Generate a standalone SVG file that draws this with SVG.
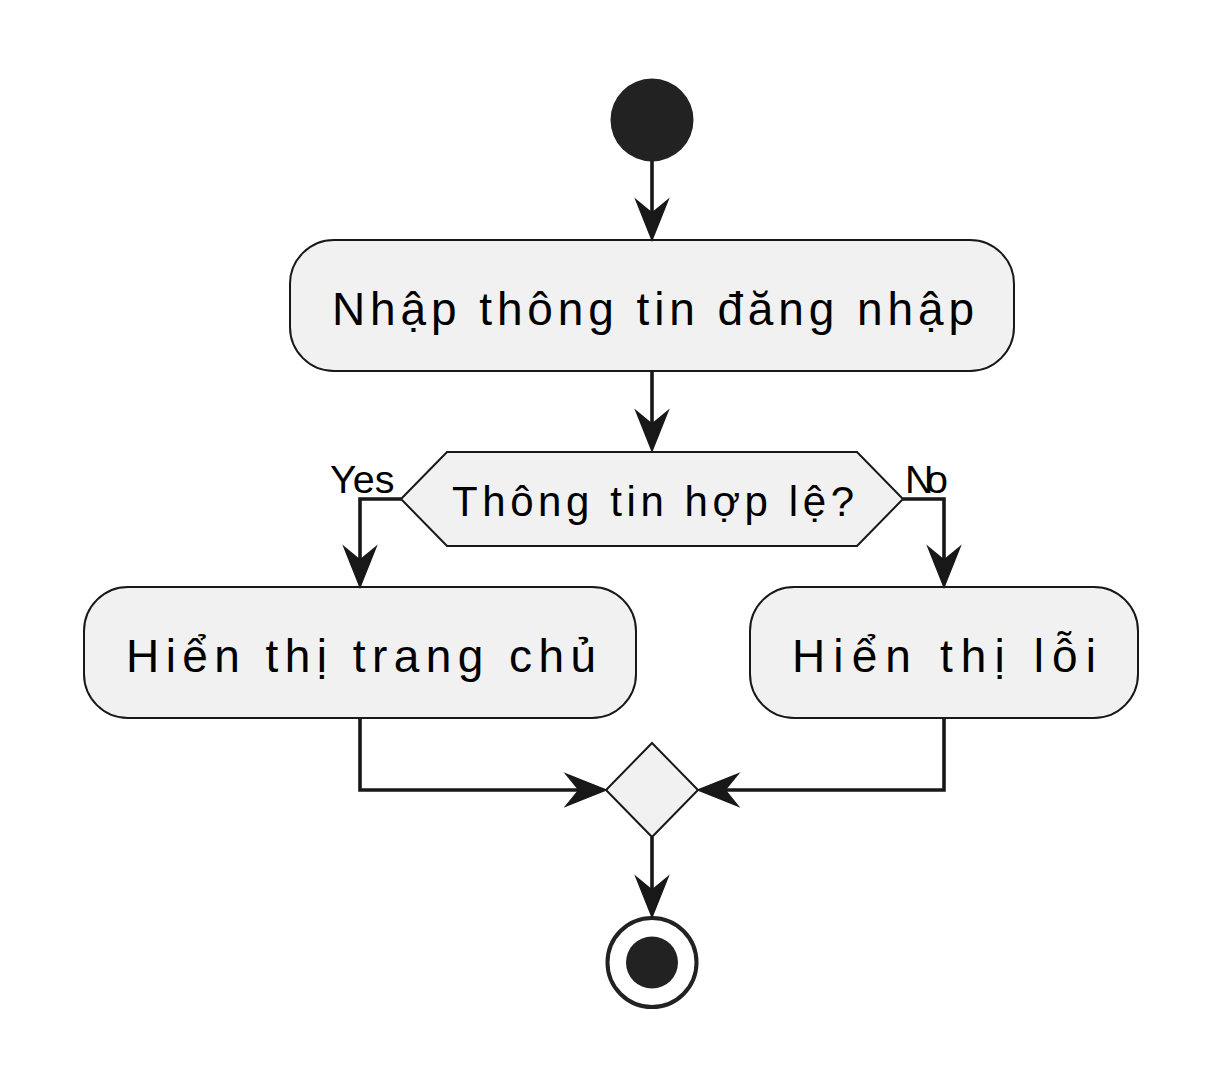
<svg xmlns="http://www.w3.org/2000/svg" width="1220" height="1088" viewBox="0 0 1220 1088">
<style>
.node{fill:#F1F1F1;stroke:#181818;stroke-width:2}
.lbl{font-family:"Liberation Sans",Arial,sans-serif;fill:#000}
.big{font-size:46px}
.mid{font-size:42px}
.sm{font-size:39.5px}
.edge{fill:none;stroke:#181818;stroke-width:3.6}
.head{fill:#181818;stroke:#181818;stroke-width:1.5;stroke-linejoin:miter}
</style>
<rect width="1220" height="1088" fill="#FFFFFF"/>
<g id="start">
<circle cx="652" cy="120" r="41.5" fill="#222222"/>
</g>
<g id="input">
<rect class="node" x="290" y="240" width="724" height="131" rx="44" ry="44"/>
<text class="lbl big" x="332" y="325" textLength="642" lengthAdjust="spacing">Nhập thông tin đăng nhập</text>
</g>
<g id="check">
<polygon class="node" points="401,499 447,452 857,452 903,499 857,546 447,546"/>
<text class="lbl mid" x="452" y="516" textLength="402" lengthAdjust="spacing">Thông tin hợp lệ?</text>
</g>
<g id="home">
<rect class="node" x="84" y="587" width="552" height="131" rx="44" ry="44"/>
<text class="lbl big" x="126" y="672" textLength="470" lengthAdjust="spacing">Hiển thị trang chủ</text>
</g>
<g id="error">
<rect class="node" x="750" y="587" width="388" height="131" rx="44" ry="44"/>
<text class="lbl big" x="792" y="672" textLength="304" lengthAdjust="spacing">Hiển thị lỗi</text>
</g>
<g id="merge">
<polygon class="node" points="652,743 698,790 652,837 606,790"/>
</g>
<g id="end">
<circle cx="652" cy="962.5" r="44.5" fill="#FFFFFF" stroke="#222222" stroke-width="4"/>
<circle cx="652" cy="962.5" r="26" fill="#222222"/>
</g>
<g id="connectors">
<line class="edge" x1="652" y1="161" x2="652" y2="225"/>
<polygon class="head" points="652,240 636,200 652,213 668,200"/>
<line class="edge" x1="652" y1="371" x2="652" y2="436"/>
<polygon class="head" points="652,451 636,411 652,424 668,411"/>
<polyline class="edge" points="401,499 360,499 360,572"/>
<polygon class="head" points="360,587 344,547 360,560 376,547"/>
<polyline class="edge" points="903,499 944,499 944,572"/>
<polygon class="head" points="944,587 928,547 944,560 960,547"/>
<polyline class="edge" points="360,718 360,790 591,790"/>
<polygon class="head" points="606,790 566,774 579,790 566,806"/>
<polyline class="edge" points="944,718 944,790 713,790"/>
<polygon class="head" points="698,790 738,774 725,790 738,806"/>
<line class="edge" x1="652" y1="837" x2="652" y2="902"/>
<polygon class="head" points="652,917 636,877 652,890 668,877"/>
<text class="lbl sm" x="330" y="493">Yes</text>
<text class="lbl sm" x="905" y="493" letter-spacing="-7.5">No</text>
</g>
</svg>
